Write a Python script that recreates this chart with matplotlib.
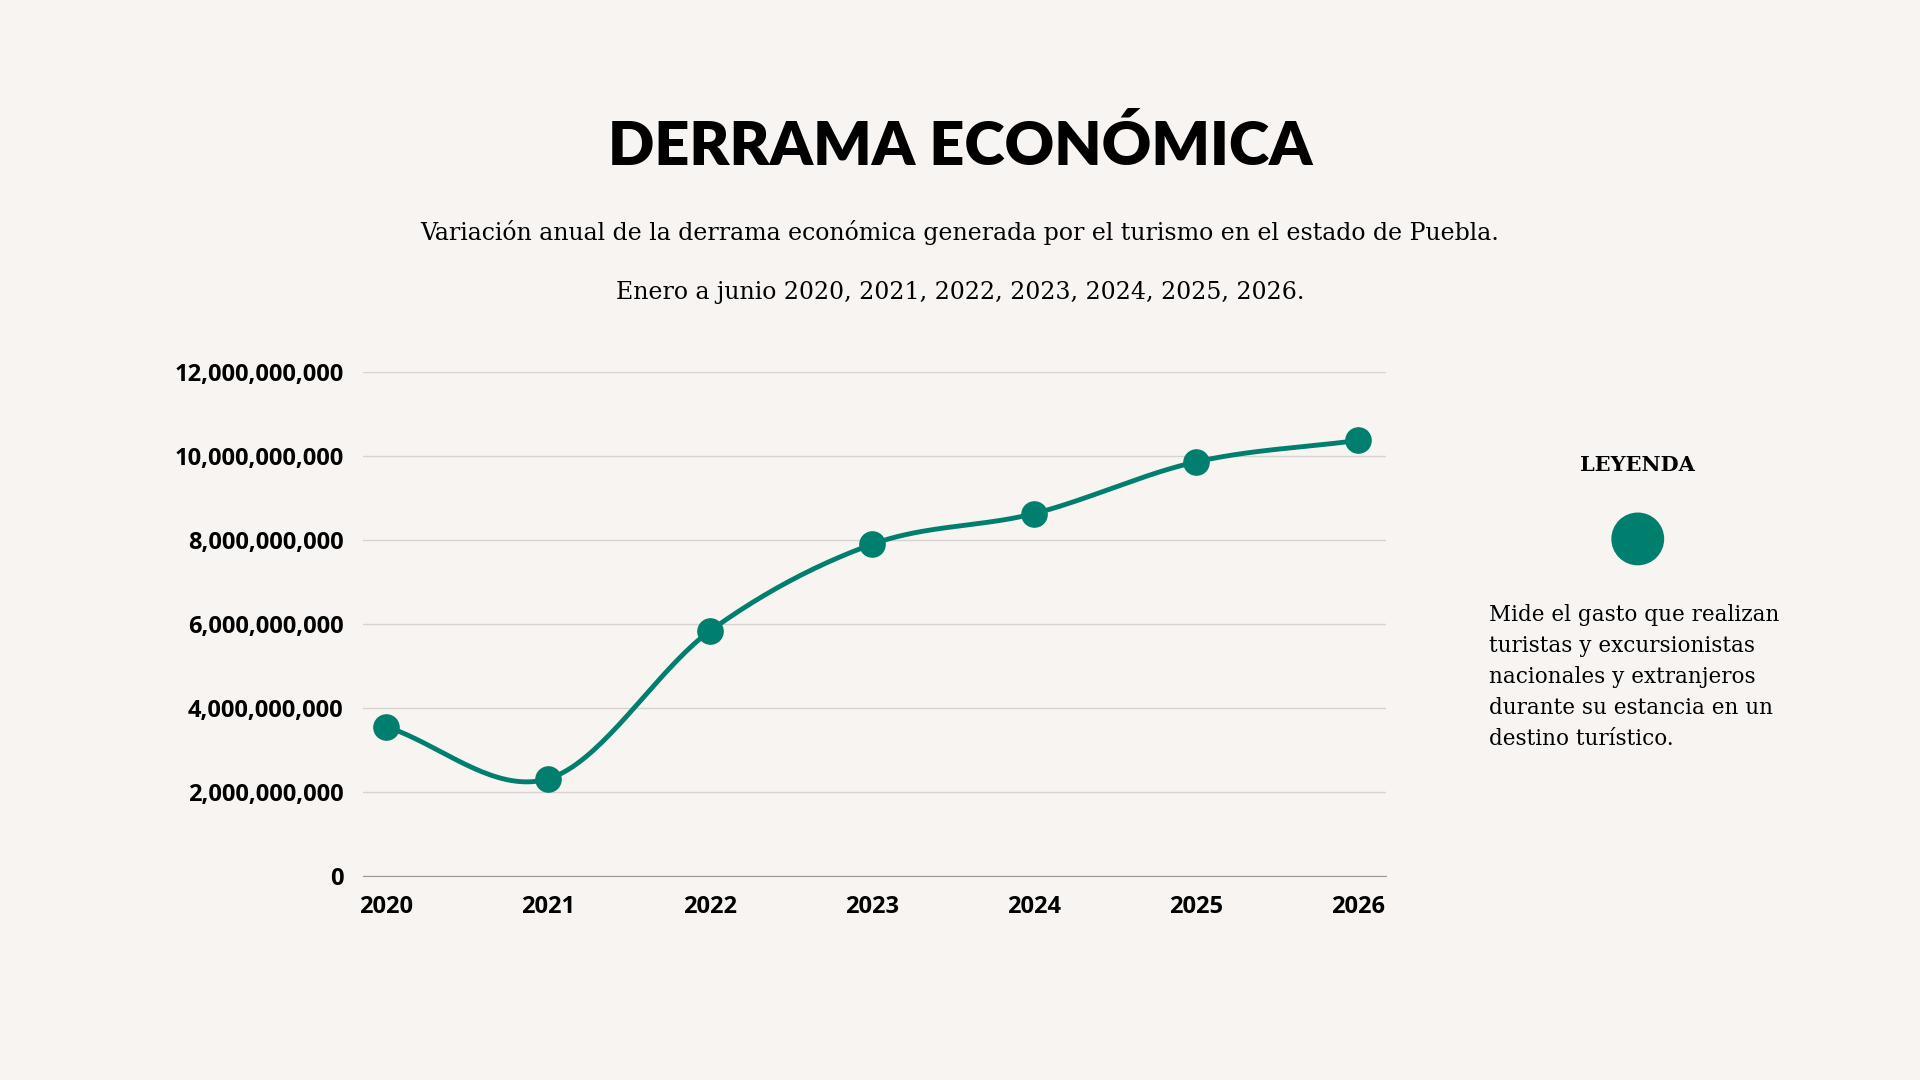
import numpy as np
import matplotlib.pyplot as plt
from matplotlib.ticker import FuncFormatter
from matplotlib.patches import Ellipse

years = [2020, 2021, 2022, 2023, 2024, 2025, 2026]
derrama = [3.55e9, 2.31e9, 5.83e9, 7.89e9, 8.62e9, 9.85e9, 10.36e9]
legend_lines = ["Mide el gasto que realizan",
                "turistas y excursionistas",
                "nacionales y extranjeros",
                "durante su estancia en un",
                "destino turístico."]

bg = "#F7F4F2"
green = "#007F6E"

fig = plt.figure(figsize=(19.2, 10.8), dpi=100)
fig.patch.set_facecolor(bg)
ax = fig.add_axes([0.189, 0.189, 0.533, 0.467])
ax.set_facecolor(bg)

# smooth curve through the points (Catmull-Rom)
x = np.array(years, dtype=float)
y = np.array(derrama)
px = np.concatenate([[2 * x[0] - x[1]], x, [2 * x[-1] - x[-2]]])
py = np.concatenate([[2 * y[0] - y[1]], y, [2 * y[-1] - y[-2]]])
cx, cy = [], []
t = np.linspace(0, 1, 40)
for i in range(1, len(px) - 2):
    for arr, out in ((px, cx), (py, cy)):
        p0, p1, p2, p3 = arr[i - 1:i + 3]
        out.extend(0.5 * (2 * p1 + (-p0 + p2) * t + (2 * p0 - 5 * p1 + 4 * p2 - p3) * t ** 2
                          + (-p0 + 3 * p1 - 3 * p2 + p3) * t ** 3))
ax.plot(cx, cy, color=green, lw=3.5, zorder=3)
ax.scatter(x, y, s=330, color=green, zorder=4)

ax.set_xlim(2019.856, 2026.174)
ax.set_ylim(0, 12e9)
ax.set_yticks(np.arange(0, 12.1e9, 2e9))
ax.set_xticks(years)
ax.yaxis.set_major_formatter(FuncFormatter(lambda v, p: f"{v:,.0f}"))
ax.grid(axis="y", color="#D5D2D0", lw=1)
ax.set_axisbelow(True)
for s in ["top", "right", "left"]:
    ax.spines[s].set_visible(False)
ax.spines["bottom"].set_color("#999999")
ax.tick_params(length=0, labelsize=17, pad=14)
for lab in ax.get_xticklabels() + ax.get_yticklabels():
    lab.set_fontfamily("Open Sans")
    lab.set_fontweight("bold")

fig.text(0.5, 0.864, "DERRAMA ECONÓMICA", ha="center", va="center",
         fontsize=44, fontweight="heavy", family="Lato")
fig.text(0.5, 0.785, "Variación anual de la derrama económica generada por el turismo en el estado de Puebla.",
         ha="center", va="center", fontsize=17, family="DejaVu Serif")
fig.text(0.5, 0.729, "Enero a junio 2020, 2021, 2022, 2023, 2024, 2025, 2026.",
         ha="center", va="center", fontsize=17, family="DejaVu Serif")

fig.text(0.853, 0.569, "LEYENDA", ha="center", va="center", fontsize=15,
         fontweight="bold", family="DejaVu Serif")
fig.add_artist(Ellipse((0.853, 0.501), 0.0268, 0.0476, transform=fig.transFigure,
                       color=green))
for i, line in enumerate(legend_lines):
    fig.text(0.7755, 0.431 - i * 0.0289, line, ha="left", va="center",
             fontsize=15.5, family="DejaVu Serif")

fig.savefig("out.png", dpi=100, facecolor=bg)
